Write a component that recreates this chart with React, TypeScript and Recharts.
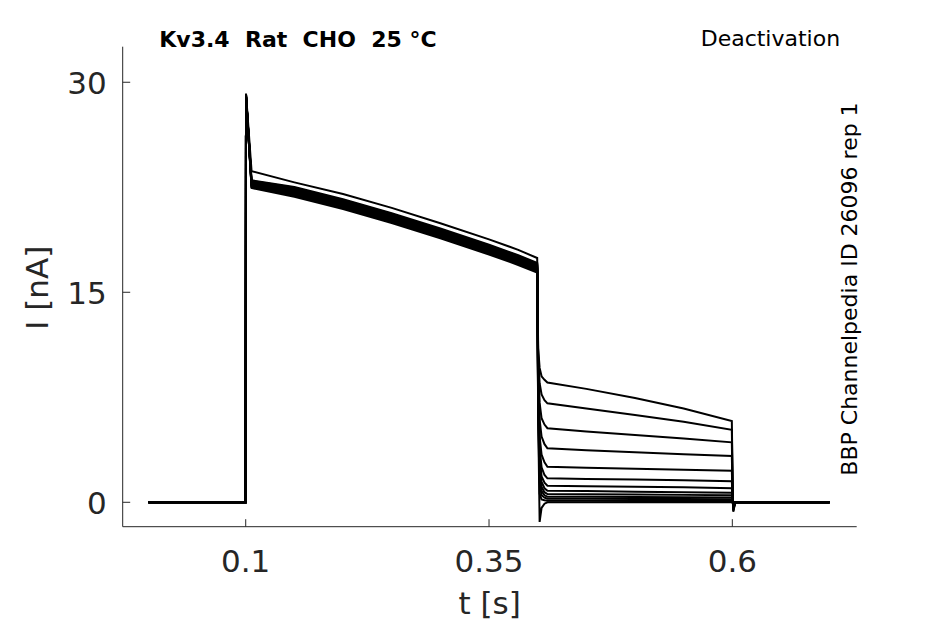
import React from "react";
import { LineChart, Line, XAxis, YAxis } from "recharts";

// time grid shared by every sweep [s]
const times = [
  0, 0.0999, 0.1003, 0.106, 0.15, 0.2, 0.25, 0.3, 0.35, 0.38, 0.3995,
  0.4005, 0.402, 0.404, 0.407, 0.41, 0.45, 0.5, 0.55, 0.5995,
  0.6005, 0.601, 0.603, 0.7,
];

// current per sweep [nA]
const sweep01 = [0, 0, 29.2, 23.65, 22.85, 22.02, 21.03, 19.93, 18.78, 18.03, 17.45, 11.0, 9.6, 9.0, 8.75, 8.55, 8.1, 7.45, 6.7, 5.8, 0.2, -0.6, 0, 0];
const sweep02 = [0, 0, 29.1, 23.0, 22.52, 21.65, 20.65, 19.55, 18.4, 17.65, 17.1, 10.6, 8.5, 7.7, 7.3, 7.07, 6.7, 6.23, 5.75, 5.18, 0.1, -0.67, 0, 0];
const sweep03 = [0, 0, 29.0, 22.95, 22.46, 21.59, 20.59, 19.49, 18.34, 17.59, 17.04, 10.2, 7.1, 6.0, 5.55, 5.29, 5.05, 4.81, 4.55, 4.28, 0.1, -0.5, 0, 0];
const sweep04 = [0, 0, 29.1, 22.9, 22.4, 21.53, 20.53, 19.43, 18.28, 17.53, 16.98, 9.8, 5.9, 4.7, 4.15, 3.86, 3.72, 3.57, 3.44, 3.31, 0.05, -0.5, 0, 0];
const sweep05 = [0, 0, 29.0, 22.85, 22.34, 21.47, 20.47, 19.37, 18.22, 17.47, 16.92, 9.4, 4.7, 3.4, 2.85, 2.54, 2.47, 2.4, 2.33, 2.26, 0, -0.4, 0, 0];
const sweep06 = [0, 0, 29.1, 22.8, 22.28, 21.41, 20.41, 19.31, 18.16, 17.41, 16.86, 9.0, 3.9, 2.5, 1.95, 1.71, 1.66, 1.62, 1.57, 1.5, 0, -0.4, 0, 0];
const sweep07 = [0, 0, 29.0, 22.75, 22.22, 21.35, 20.35, 19.25, 18.1, 17.35, 16.8, 8.6, 3.2, 1.85, 1.4, 1.19, 1.15, 1.11, 1.07, 1.0, 0, -0.3, 0, 0];
const sweep08 = [0, 0, 29.1, 22.7, 22.16, 21.29, 20.29, 19.19, 18.04, 17.29, 16.74, 8.2, 2.7, 1.45, 1.0, 0.83, 0.8, 0.76, 0.72, 0.68, 0, -0.3, 0, 0];
const sweep09 = [0, 0, 29.0, 22.65, 22.1, 21.23, 20.23, 19.13, 17.98, 17.23, 16.68, 7.8, 2.3, 1.1, 0.72, 0.59, 0.57, 0.55, 0.53, 0.5, 0, -0.2, 0, 0];
const sweep10 = [0, 0, 29.1, 22.6, 22.04, 21.17, 20.17, 19.07, 17.92, 17.17, 16.62, 7.4, 1.9, 0.8, 0.5, 0.4, 0.39, 0.38, 0.36, 0.35, 0, -0.2, 0, 0];
const sweep11 = [0, 0, 29.0, 22.55, 21.98, 21.11, 20.11, 19.01, 17.86, 17.11, 16.56, 7.0, 1.4, 0.5, 0.33, 0.26, 0.25, 0.24, 0.23, 0.22, 0, -0.1, 0, 0];
const sweep12 = [0, 0, 29.1, 22.5, 21.9, 21.03, 20.03, 18.93, 17.78, 17.03, 16.48, 6.6, 0.6, 0.2, 0.14, 0.11, 0.11, 0.1, 0.1, 0.1, 0, -0.1, 0, 0];
const sweep13 = [0, 0, 29.0, 22.45, 21.82, 20.95, 19.95, 18.85, 17.7, 16.95, 16.4, 6.2, -1.4, -0.4, -0.1, 0, 0, 0, 0, 0, 0, -0.1, 0, 0];

const sweeps = [
  sweep01, sweep02, sweep03, sweep04, sweep05, sweep06, sweep07,
  sweep08, sweep09, sweep10, sweep11, sweep12, sweep13,
];

const xTicks = [0.1, 0.35, 0.6];
const yTicks = [0, 15, 30];

const title = "Kv3.4  Rat  CHO  25 °C";
const protocol = "Deactivation";
const sourceId = "BBP Channelpedia ID 26096 rep 1";

const rows = times.map((t, i) => {
  const row: Record<string, number> = { t };
  sweeps.forEach((s, k) => {
    row["s" + k] = s[i];
  });
  return row;
});

const FONT = "DejaVu Sans";
const AXIS = "#262626";

function YTick(props: any) {
  const { x, y, payload } = props;
  return (
    <g>
      <line x1={x} x2={x + 7.5} y1={y} y2={y} stroke={AXIS} strokeWidth={1} />
      <text x={x - 16} y={y + 12} textAnchor="end" fontSize={31} fill={AXIS} fontFamily={FONT}>
        {payload.value}
      </text>
    </g>
  );
}

function XTick(props: any) {
  const { x, y, payload } = props;
  return (
    <g>
      <line x1={x} x2={x} y1={y} y2={y - 7.5} stroke={AXIS} strokeWidth={1} />
      <text x={x} y={y + 45.6} textAnchor="middle" fontSize={31} fill={AXIS} fontFamily={FONT}>
        {String(payload.value)}
      </text>
    </g>
  );
}

export default function App() {
  return (
    <div style={{ position: "absolute", left: 0, top: 0, width: 945, height: 624, background: "#fff" }}>
      <LineChart
        width={945}
        height={624}
        data={rows}
        margin={{ top: 46.7, right: 88.3, bottom: 0, left: 0 }}
      >
        <XAxis
          dataKey="t"
          type="number"
          domain={[-0.0264, 0.7278]}
          ticks={xTicks}
          allowDataOverflow
          height={97.3}
          stroke={AXIS}
          tickLine={false}
          tickSize={0}
          tickMargin={0}
          tick={<XTick />}
          label={{ value: "t [s]", position: "insideBottom", offset: 10, fontSize: 31, fill: AXIS, fontFamily: FONT }}
        />
        <YAxis
          type="number"
          domain={[-1.743, 32.54]}
          ticks={yTicks}
          allowDataOverflow
          width={122.7}
          stroke={AXIS}
          tickLine={false}
          tickSize={0}
          tickMargin={0}
          tick={<YTick />}
          label={{
            content: (p: any) => {
              const vb = p.viewBox;
              const cx = vb.x + 48.3;
              const cy = vb.y + vb.height / 2 + 1;
              return (
                <text
                  x={cx}
                  y={cy}
                  textAnchor="middle"
                  fontSize={31}
                  fill={AXIS}
                  fontFamily={FONT}
                  transform={`rotate(-90, ${cx}, ${cy})`}
                >
                  I [nA]
                </text>
              );
            },
          }}
        />
        {sweeps.map((_, k) => (
          <Line
            key={k}
            dataKey={"s" + k}
            type="linear"
            stroke="#000"
            strokeWidth={2}
            dot={false}
            activeDot={false}
            isAnimationActive={false}
          />
        ))}
      </LineChart>
      <svg
        width={945}
        height={624}
        style={{ position: "absolute", left: 0, top: 0, pointerEvents: "none" }}
      >
        <text x={159.3} y={46.7} fontSize={22} fontWeight="bold" fontFamily={FONT} fill="#000" style={{ whiteSpace: "pre" }}>
          {title}
        </text>
        <text x={700.7} y={46} fontSize={22} fontFamily={FONT} fill="#000">
          {protocol}
        </text>
        <text
          x={856.7}
          y={289}
          fontSize={22}
          fontFamily={FONT}
          fill="#000"
          textAnchor="middle"
          transform="rotate(-90, 856.7, 289)"
        >
          {sourceId}
        </text>
      </svg>
    </div>
  );
}
